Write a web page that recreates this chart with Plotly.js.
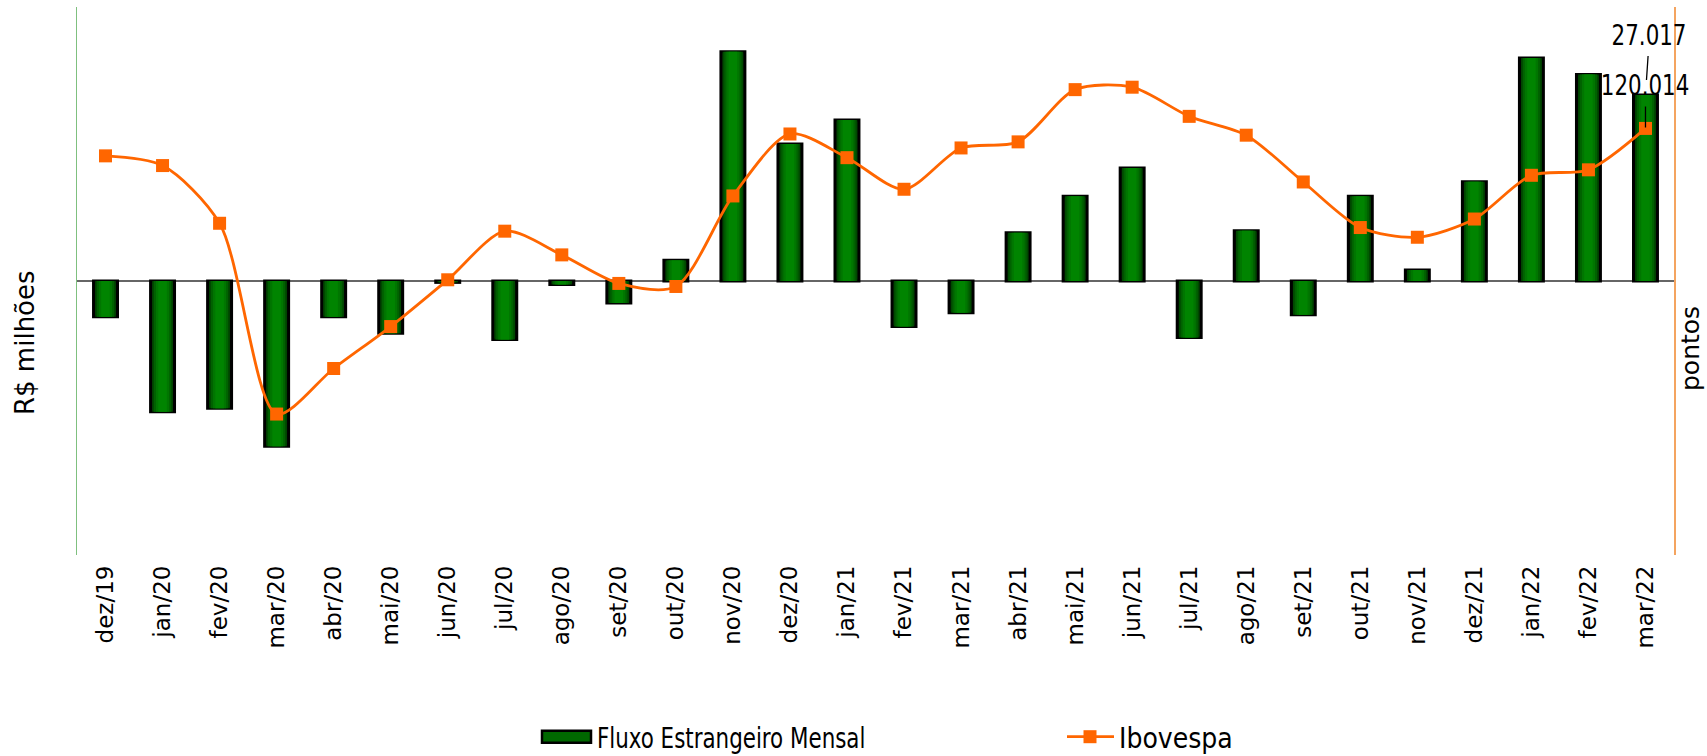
<!DOCTYPE html>
<html>
<head>
<meta charset="utf-8">
<script src="https://cdn.plot.ly/plotly-3.0.1.min.js"></script>
<style>
html,body{margin:0;padding:0;background:#fff;}
#chart{width:1707px;height:756px;}
</style>
</head>
<body>
<div id="chart"></div>
<script>
const months = ["dez/19","jan/20","fev/20","mar/20","abr/20","mai/20","jun/20","jul/20","ago/20","set/20","out/20","nov/20","dez/20","jan/21","fev/21","mar/21","abr/21","mai/21","jun/21","jul/21","ago/21","set/21","out/21","nov/21","dez/21","jan/22","fev/22","mar/22"];
// Fluxo estrangeiro mensal (R$ milhões)
const fluxo = [-5200,-19000,-18500,-24000,-5200,-7600,-200,-8500,-500,-3200,3000,33300,19900,23400,-6600,-4600,7000,12300,16400,-8200,7300,-4900,12300,1600,14400,32400,30000,27017];
// Ibovespa (pontos)
const ibov = [115500,113900,104400,73000,80500,87400,95100,103100,99200,94500,94000,108900,119100,115200,110000,116800,117800,126400,126800,122000,118900,111200,103700,102100,105100,112300,113200,120014];
const lastFluxoLabel = "27.017";
const lastIbovLabel = "120.014";
const seriesNames = ["Fluxo Estrangeiro Mensal", "Ibovespa"];
const leftTitle = "R$ milhões";
const rightTitle = "pontos";

function hasFont(name) {
  const c = document.createElement("canvas").getContext("2d");
  const s = "Fluxo Estrangeiro Mensal 120.014 mmmWWiil";
  c.font = "40px monospace";
  const a = c.measureText(s).width;
  c.font = '40px "' + name + '", monospace';
  const b = c.measureText(s).width;
  return Math.abs(a - b) > 0.5;
}
const narrowCandidates = ["Liberation Sans Narrow", "DejaVu Sans Condensed", "Arial Narrow"];
let narrowFound = null;
for (const f of narrowCandidates) { if (hasFont(f)) { narrowFound = f; break; } }
const narrow = narrowFound ? "'" + narrowFound + "', sans-serif" : "'Liberation Sans', Arial, sans-serif";
const squeeze = 0.85;
const verd = "'DejaVu Sans', Verdana, sans-serif";

// bar shading layers (edge -> centre)
const barLayers = [
  {w: 0.42, c: "#002a00"},
  {w: 0.36, c: "#004800"},
  {w: 0.30, c: "#006200"},
  {w: 0.23, c: "#007600"},
  {w: 0.15, c: "#008400"}
];

const traces = barLayers.map((L, i) => ({
  type: "bar",
  name: seriesNames[0],
  x: months,
  y: fluxo,
  width: L.w,
  showlegend: i === 0,
  legend: "legend",
  marker: {color: L.c, line: {color: "#000000", width: i === 0 ? 3 : 0}},
  yaxis: "y"
}));

traces.push({
  type: "scatter",
  mode: "lines+markers",
  name: seriesNames[1],
  legend: "legend2",
  x: months,
  y: ibov,
  yaxis: "y2",
  line: {color: "#ff6600", width: 2.8, shape: "spline", smoothing: 0.8},
  marker: {symbol: "square", size: 13, color: "#ff6600"}
});

const n = months.length;
const last = months[n - 1];

const legendBase = {
  orientation: "h",
  xref: "container",
  yref: "container",
  y: 1 - 737 / 756,
  xanchor: "left",
  yanchor: "middle",
  font: {family: narrow, size: 28, color: "#000"},
  bgcolor: "rgba(0,0,0,0)"
};

const layout = {
  width: 1707,
  height: 756,
  margin: {l: 77, r: 33, t: 7, b: 201},
  paper_bgcolor: "#ffffff",
  plot_bgcolor: "#ffffff",
  showlegend: true,
  barmode: "overlay",
  xaxis: {
    type: "category",
    range: [-0.5, n - 0.5],
    showgrid: false,
    showline: false,
    zeroline: false,
    ticks: "",
    tickangle: -90,
    ticklabelstandoff: 5,
    tickfont: {family: verd, size: 23, color: "#000"}
  },
  yaxis: {
    range: [-39800, 39800],
    showgrid: false,
    showticklabels: false,
    ticks: "",
    showline: true,
    linecolor: "#7fc07f",
    linewidth: 1.5,
    zeroline: true,
    zerolinecolor: "#666666",
    zerolinewidth: 1.3
  },
  yaxis2: {
    overlaying: "y",
    side: "right",
    range: [49800, 140000],
    showgrid: false,
    showticklabels: false,
    ticks: "",
    showline: true,
    linecolor: "#f4a460",
    linewidth: 1.5,
    zeroline: false
  },
  legend: Object.assign({}, legendBase, {x: 557 / 1707}),
  legend2: Object.assign({}, legendBase, {x: 1079 / 1707}),
  annotations: [
    {
      text: leftTitle,
      xref: "paper", yref: "paper",
      x: (25 - 77) / 1597, y: (555 - 343) / 548,
      xanchor: "center", yanchor: "middle",
      textangle: -90,
      showarrow: false,
      font: {family: verd, size: 26, color: "#000"}
    },
    {
      text: rightTitle,
      xref: "paper", yref: "paper",
      x: (1690 - 77) / 1597, y: (555 - 348) / 548,
      xanchor: "center", yanchor: "middle",
      textangle: -90,
      showarrow: false,
      font: {family: verd, size: 25, color: "#000"}
    },
    {
      text: lastFluxoLabel,
      x: last, y: fluxo[n - 1],
      xref: "x", yref: "y",
      showarrow: true,
      arrowhead: 0,
      arrowwidth: 1.3,
      arrowcolor: "#000",
      ax: 4, ay: -60,
      standoff: 15,
      borderpad: 4,
      font: {family: narrow, size: 28, color: "#000"}
    },
    {
      text: lastIbovLabel,
      x: last, y: ibov[n - 1],
      xref: "x", yref: "y2",
      showarrow: true,
      arrowhead: 0,
      arrowwidth: 1.3,
      arrowcolor: "#000",
      ax: 0, ay: -43,
      standoff: 1,
      borderpad: 4,
      font: {family: narrow, size: 28, color: "#000"}
    }
  ]
};

function squeezeEl(t) {
  const x = parseFloat(t.getAttribute("x") || "0");
  t.setAttribute("transform", "matrix(" + squeeze + " 0 0 1 " + (x * (1 - squeeze)) + " 0)");
}

function restyleSvg(gd) {
  gd.querySelectorAll("text.legendtext").forEach(squeezeEl);
  gd.querySelectorAll("g.annotation").forEach((g, i) => {
    if (i < 2) return;
    const t = g.querySelector("text.annotation-text");
    if (t) squeezeEl(t);
  });
  // let the legend samples extend past the legend box, as in the original
  gd.querySelectorAll("[clip-path]").forEach(el => {
    if (el.closest && el.closest("[class^='legend'], .legend, .legend2")) el.removeAttribute("clip-path");
  });
  gd.querySelectorAll("g.traces").forEach(tr => {
    const txt = tr.querySelector("text.legendtext");
    const label = txt ? txt.textContent.trim() : "";
    const paths = Array.from(tr.querySelectorAll("path"));
    const linePath = paths.find(p => /^M5,0h30/.test(p.getAttribute("d") || ""));
    if (label === seriesNames[0] && !linePath) {
      const p = tr.querySelector(".legendpoints path") || paths[0];
      if (!p) return;
      p.setAttribute("d", "M14,6H-35V-6H14Z");
      p.style.fill = "#006800";
      p.style.stroke = "#000";
      p.style.strokeWidth = "2.5px";
    } else if (linePath) {
      linePath.setAttribute("d", "M-12,0h47");
      paths.forEach(p => {
        const tf = p.getAttribute("transform") || "";
        if (p !== linePath && /translate\(20/.test(tf)) p.setAttribute("transform", "translate(11,0)");
      });
    }
  });
}

Plotly.newPlot("chart", traces, layout, {displayModeBar: false, staticPlot: true}).then(gd => {
  restyleSvg(gd);
});
</script>
</body>
</html>
